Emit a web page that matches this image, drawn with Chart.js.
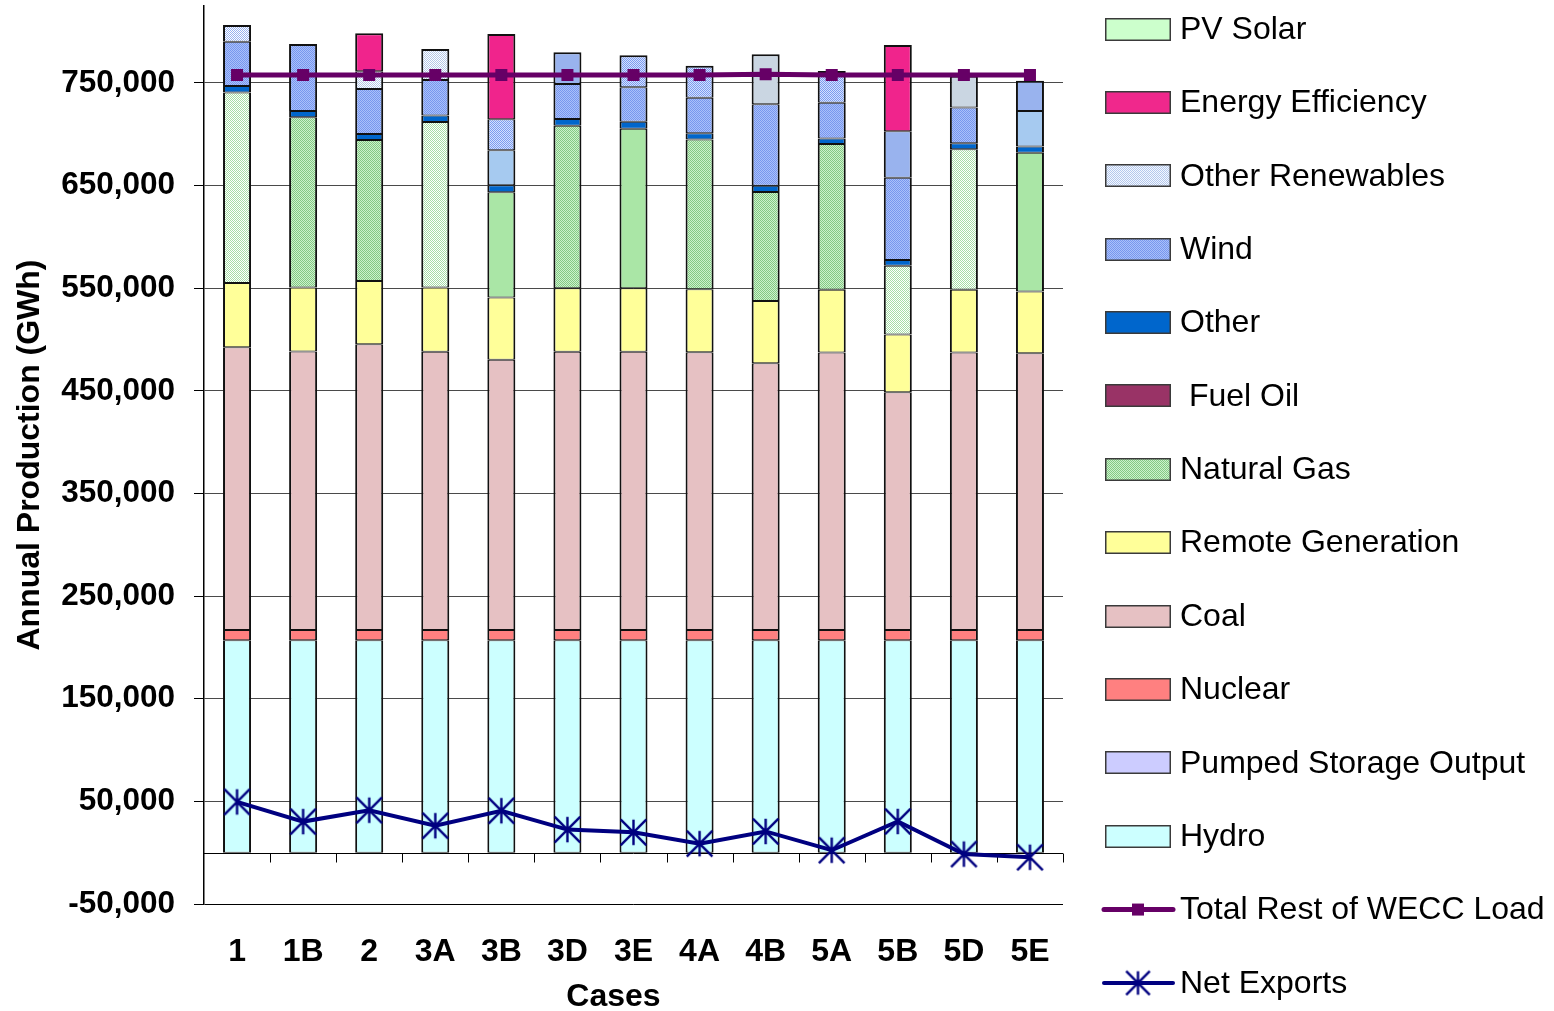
<!DOCTYPE html>
<html>
<head>
<meta charset="utf-8">
<title>Annual Production by Case</title>
<script src="https://cdn.jsdelivr.net/npm/chart.js@4.4.1/dist/chart.umd.min.js"></script>
<style>
  html, body { margin: 0; padding: 0; background: #ffffff; }
  #wrap { width: 1554px; height: 1011px; position: relative; }
</style>
</head>
<body>
<div id="wrap"><canvas id="c" width="1554" height="1011"></canvas></div>
<script>
// ---- data (GWh) ----
const categories = ['1', '1B', '2', '3A', '3B', '3D', '3E', '4A', '4B', '5A', '5B', '5D', '5E'];

const hydro            = [207000, 207000, 207000, 207000, 207000, 207000, 207000, 207000, 207000, 207000, 207000, 207000, 207000];
const pumpedStorage    = [0, 0, 0, 0, 0, 0, 0, 0, 0, 0, 0, 0, 0];
const nuclear          = [10000, 10000, 10000, 10000, 10000, 10000, 10000, 10000, 10000, 10000, 10000, 10000, 10000];
const coal             = [275500, 271300, 278500, 271000, 263200, 271000, 271000, 270700, 260000, 270300, 231700, 270300, 269700];
const remoteGeneration = [62500, 62300, 61500, 62600, 60800, 62000, 62000, 61300, 60500, 61100, 56300, 61100, 60000];
const naturalGas       = [185600, 165900, 137500, 161400, 102500, 158200, 155500, 145800, 106300, 142200, 66800, 137000, 135400];
const fuelOil          = [0, 0, 0, 0, 0, 0, 0, 0, 0, 0, 0, 0, 0];
const otherGen         = [6400, 6200, 5800, 6200, 6800, 6800, 6800, 6200, 6100, 5400, 5800, 5800, 5900];
const wind             = [43200, 65300, 43900, 34800, 34100, 34000, 33500, 34700, 79300, 34800, 80100, 34800, 34700];
const otherRenewables  = [16300, 0, 17200, 30000, 30200, 30900, 31200, 31200, 48800, 30900, 45300, 31000, 29500];
const energyEfficiency = [0, 0, 37000, 0, 83100, 0, 0, 0, 0, 0, 84000, 0, 0];
const pvSolar          = [0, 0, 0, 0, 0, 0, 0, 0, 0, 0, 0, 0, 0];

const totalLoad  = [757800, 757800, 757800, 757800, 757800, 757800, 757800, 757800, 758600, 757800, 757800, 757800, 757800];
const netExports = [49500, 30300, 41400, 26300, 40900, 22500, 19800, 8800, 20700, 2400, 30400, -1400, -4500];

const yTicks = [-50000, 50000, 150000, 250000, 350000, 450000, 550000, 650000, 750000];

const xTitle = 'Cases';
const yTitle = 'Annual Production (GWh)';

// ---- fills ----
const FONT = '"Liberation Sans", Arial, Helvetica, sans-serif';
const canvas = document.getElementById('c');
const ctx0 = canvas.getContext('2d');

function checker(a, b) {
  const t = document.createElement('canvas');
  t.width = 2; t.height = 2;
  const g = t.getContext('2d');
  g.fillStyle = a; g.fillRect(0, 0, 2, 2);
  g.fillStyle = b; g.fillRect(0, 0, 1, 1); g.fillRect(1, 1, 1, 1);
  return ctx0.createPattern(t, 'repeat');
}

const fills = {
  gasPale:   checker('#FFFFFF', '#A6DEA6'),
  gasDense:  checker('#CCF2CC', '#84C884'),
  gasSolid:  '#AAE6A6',
  windHatch: checker('#AAC0FA', '#7797EE'),
  windLight: '#A6CAF0',
  renewLight:checker('#FFFFFF', '#98B2F0'),
  renewBlue: checker('#D4E0FF', '#7C9CEE'),
  renewPale: checker('#FFFFFF', '#B4C8E8'),
  renewPeri: '#99B3EE',
  renewGray: '#CAD6E2'
};

// per-case fill choices for the segments whose shading differs between cases
const gasFill = ['gasPale', 'gasDense', 'gasDense', 'gasPale', 'gasSolid', 'gasDense', 'gasSolid',
                 'gasDense', 'gasDense', 'gasDense', 'gasPale', 'gasPale', 'gasSolid'].map(k => fills[k]);
const windFill = ['windHatch', 'windHatch', 'windHatch', 'windHatch', 'windLight', 'windHatch', 'windHatch',
                  'windHatch', 'windHatch', 'windHatch', 'windHatch', 'windHatch', 'windLight'].map(k => fills[k]);
const renewFill = ['renewLight', 'renewBlue', 'renewPale', 'renewPale', 'renewBlue', 'renewPeri', 'renewBlue',
                   'renewBlue', 'renewGray', 'renewBlue', 'renewPeri', 'renewGray', 'renewPeri'].map(k => fills[k]);

// legend swatches
const legendFill = {
  'PV Solar': '#CCFFCC',
  'Energy Efficiency': '#F0288C',
  'Other Renewables': checker('#F4F8FF', '#B4C8EC'),
  'Wind': fills.windHatch,
  'Other': '#0066CC',
  ' Fuel Oil': '#993366',
  'Natural Gas': fills.gasDense,
  'Remote Generation': '#FFFF99',
  'Coal': '#E6C1C3',
  'Nuclear': '#FF8080',
  'Pumped Storage Output': '#CCCCFF',
  'Hydro': '#CCFFFF'
};

// asterisk marker used for Net Exports
function starMarker(size, lw) {
  const t = document.createElement('canvas');
  t.width = size; t.height = size;
  const g = t.getContext('2d');
  g.strokeStyle = '#000080';
  g.lineWidth = lw;
  const m = lw / 2 + 0.5, e = size - m, c = size / 2;
  g.beginPath();
  g.moveTo(c, m); g.lineTo(c, e);
  g.moveTo(m, m); g.lineTo(e, e);
  g.moveTo(e, m); g.lineTo(m, e);
  g.stroke();
  return t;
}
const star = starMarker(29, 2.4);
const starSmall = starMarker(27, 2.4);

// ---- datasets ----
const barSeries = [
  ['Hydro', hydro, '#CCFFFF'],
  ['Pumped Storage Output', pumpedStorage, '#CCCCFF'],
  ['Nuclear', nuclear, '#FF8080'],
  ['Coal', coal, '#E6C1C3'],
  ['Remote Generation', remoteGeneration, '#FFFF99'],
  ['Natural Gas', naturalGas, gasFill],
  [' Fuel Oil', fuelOil, '#993366'],
  ['Other', otherGen, '#0066CC'],
  ['Wind', wind, windFill],
  ['Other Renewables', otherRenewables, renewFill],
  ['Energy Efficiency', energyEfficiency, '#F0248C'],
  ['PV Solar', pvSolar, '#CCFFCC']
];

function topSeriesIndex(i) {
  let top = -1;
  barSeries.forEach((s, k) => { if (s[1][i]) top = k; });
  return top;
}

const barDatasets = barSeries.map(([label, data, bg], k) => ({
  type: 'bar',
  label,
  data,
  backgroundColor: bg,
  borderColor: '#111111',
  borderSkipped: false,
  borderWidth: (c) => {
    if (!c.raw) return 0;
    return { left: 2, right: 2, bottom: 1, top: topSeriesIndex(c.dataIndex) === k ? 2 : 1 };
  },
  barPercentage: 0.424,
  categoryPercentage: 1.0,
  order: 1
}));

const lineDatasets = [
  {
    type: 'line',
    label: 'Total Rest of WECC Load',
    data: totalLoad,
    borderColor: '#660066',
    backgroundColor: '#660066',
    borderWidth: 5,
    pointStyle: 'rect',
    pointRadius: 8.5,
    pointBorderWidth: 0,
    pointBackgroundColor: '#660066',
    tension: 0,
    stack: 'load',
    order: 0
  },
  {
    type: 'line',
    label: 'Net Exports',
    data: netExports,
    borderColor: '#000080',
    backgroundColor: '#000080',
    borderWidth: 4,
    pointStyle: star,
    pointRadius: 14,
    tension: 0,
    stack: 'exports',
    order: 0
  }
];

// ---- plugins ----
// horizontal category axis crossing at zero, with tick marks between cases
const zeroAxis = {
  id: 'zeroAxis',
  beforeDatasetsDraw(chart) {
    const { ctx, chartArea, scales: { x, y } } = chart;
    const y0 = Math.round(y.getPixelForValue(0)) + 0.5;
    ctx.save();
    ctx.strokeStyle = '#000000';
    ctx.lineWidth = 1;
    ctx.beginPath();
    ctx.moveTo(chartArea.left, y0);
    ctx.lineTo(chartArea.right, y0);
    for (let i = 1; i <= categories.length; i++) {
      const px = Math.round(x.getPixelForValue(i - 0.5)) + 0.5;
      ctx.moveTo(px, y0);
      ctx.lineTo(px, y0 + 9);
    }
    ctx.stroke();
    ctx.restore();
  }
};

// category-axis title, set slightly left of the plot centre
const caseTitle = {
  id: 'caseTitle',
  afterDraw(chart) {
    const { ctx, chartArea } = chart;
    ctx.save();
    ctx.font = 'bold 32px ' + FONT;
    ctx.fillStyle = '#000000';
    ctx.textAlign = 'center';
    ctx.textBaseline = 'middle';
    ctx.fillText(xTitle, (chartArea.left + chartArea.right) / 2 - 20, 997);
    ctx.restore();
  }
};

// legend column on the right
const sideLegend = {
  id: 'sideLegend',
  afterDraw(chart) {
    const { ctx } = chart;
    const items = barDatasets.slice().reverse().concat(lineDatasets);
    const x0 = 1105, textX = 1180, top = 29, step = 73.38;
    ctx.save();
    ctx.font = '32px ' + FONT;
    ctx.textBaseline = 'middle';
    ctx.textAlign = 'left';
    items.forEach((ds, i) => {
      const cy = top + i * step;
      if (ds.type === 'bar') {
        const yb = Math.round(cy - 11.5);
        ctx.fillStyle = legendFill[ds.label];
        ctx.fillRect(x0, yb, 66, 23);
        ctx.strokeStyle = '#3a3a3a';
        ctx.lineWidth = 1.5;
        ctx.strokeRect(x0 + 0.75, yb + 0.75, 64.5, 21.5);
      } else {
        ctx.strokeStyle = ds.borderColor;
        ctx.lineWidth = ds.borderWidth;
        ctx.lineCap = 'round';
        ctx.beginPath();
        ctx.moveTo(1104, cy);
        ctx.lineTo(1173, cy);
        ctx.stroke();
        if (ds.pointStyle === 'rect') {
          ctx.fillStyle = ds.borderColor;
          ctx.fillRect(1132, cy - 6, 12, 12);
        } else {
          ctx.drawImage(starSmall, 1138 - 13.5, cy - 13.5);
        }
      }
      ctx.fillStyle = '#000000';
      ctx.fillText(ds.label, textX, cy + 1);
    });
    ctx.restore();
  }
};

Chart.defaults.font.family = FONT;
Chart.defaults.color = '#000000';

new Chart(canvas, {
  data: {
    labels: categories,
    datasets: lineDatasets.concat(barDatasets)
  },
  options: {
    responsive: false,
    animation: false,
    devicePixelRatio: 1,
    layout: { autoPadding: false, padding: { top: 6, right: 491, bottom: 0, left: 0 } },
    plugins: {
      legend: { display: false },
      tooltip: { enabled: false }
    },
    scales: {
      x: {
        stacked: true,
        grid: { display: false },
        border: { display: false },
        ticks: { font: { size: 32, weight: 'bold' }, color: '#000000', padding: 21 },
        title: { display: false },
        afterFit(s) { s.height = 107; s.paddingLeft = 0; s.paddingRight = 0; }
      },
      y: {
        stacked: true,
        min: -50000,
        max: 825000,
        afterBuildTicks(s) { s.ticks = yTicks.map(v => ({ value: v })); },
        ticks: {
          callback: (v) => Number(v).toLocaleString('en-US'),
          font: { size: 31.5, weight: 'bold' },
          color: '#000000',
          padding: 19
        },
        grid: {
          color: (c) => (c.tick && c.tick.value === -50000 ? '#000000' : '#4a4a4a'),
          lineWidth: 1,
          tickLength: 10,
          tickColor: '#000000'
        },
        border: { color: '#000000', width: 1.5 },
        title: {
          display: true, text: yTitle, color: '#000000',
          font: { size: 32, weight: 'bold', lineHeight: 1 },
          padding: { top: 14, bottom: 0 }
        },
        afterFit(s) { s.width = 204; s.paddingTop = 0; s.paddingBottom = 0; }
      }
    }
  },
  plugins: [zeroAxis, caseTitle, sideLegend]
});
</script>
</body>
</html>
